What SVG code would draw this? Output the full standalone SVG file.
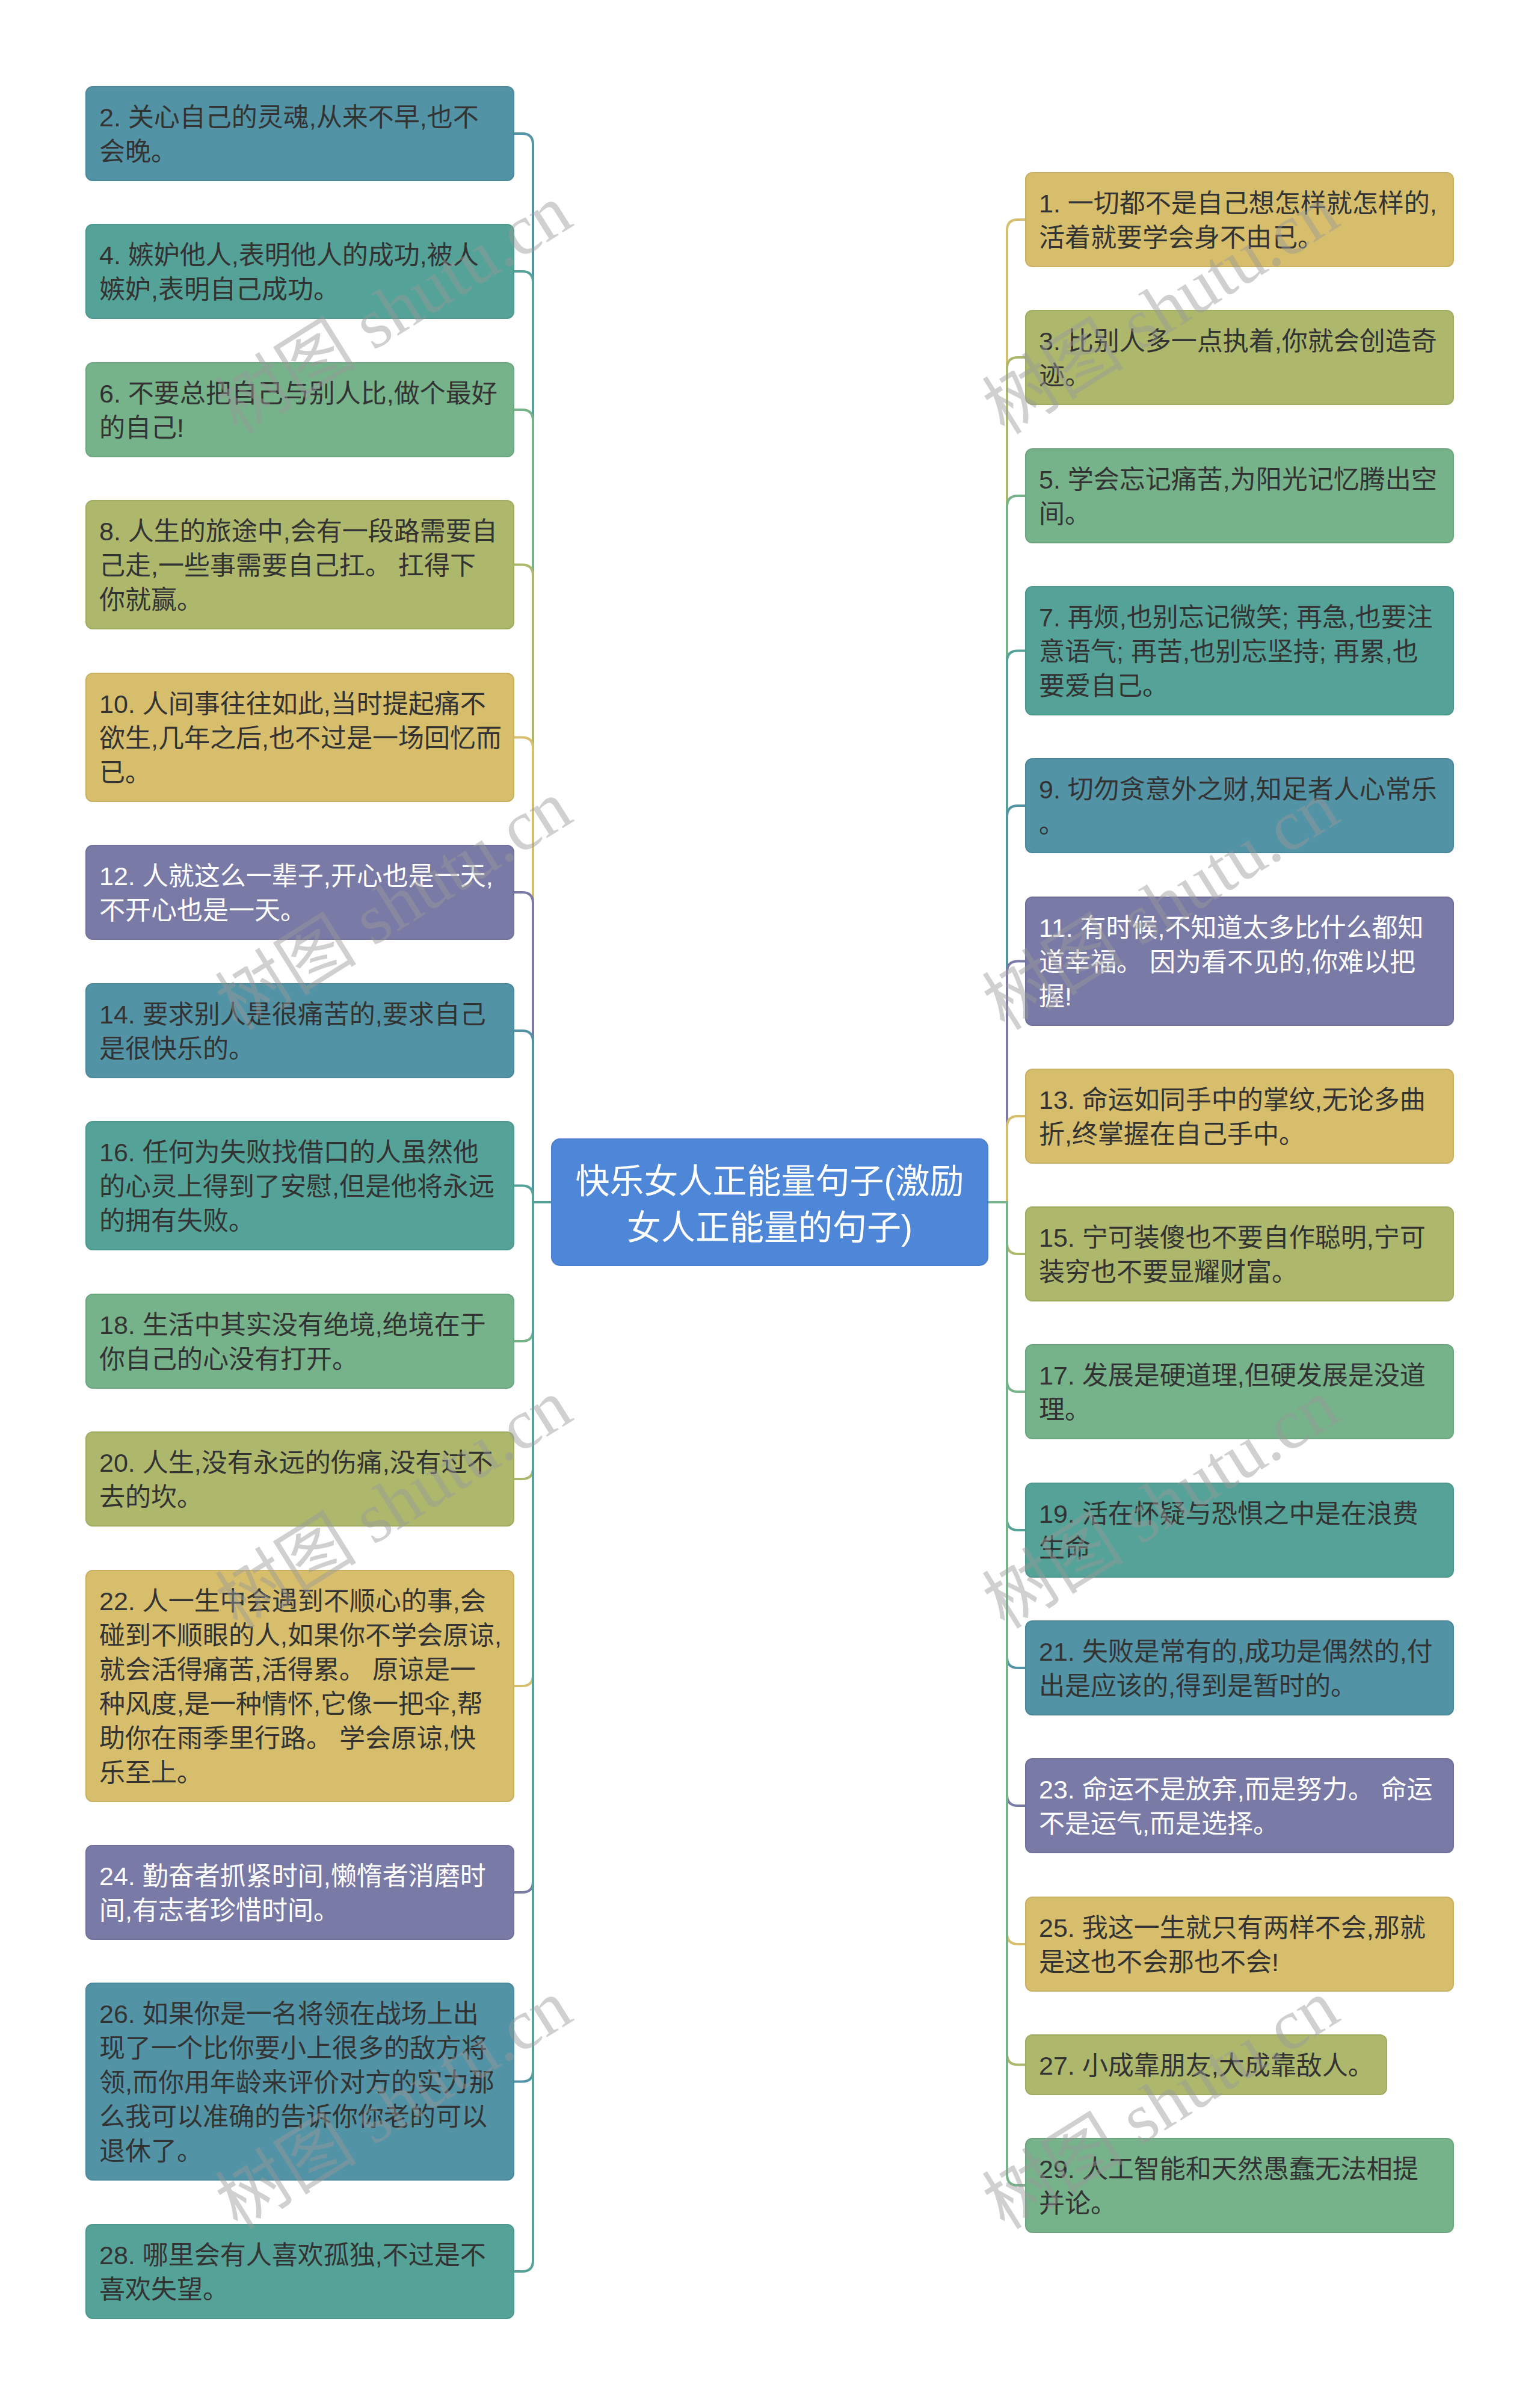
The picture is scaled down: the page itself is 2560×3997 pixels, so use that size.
<svg xmlns="http://www.w3.org/2000/svg" width="2560" height="3997" viewBox="0 0 2560 3997">
<style>
.bg{fill:#ffffff}
.n{stroke-width:2}
.c1{fill:#5293A6;stroke:#4B889A}
.c2{fill:#55A398;stroke:#4D988C}
.c3{fill:#76B28A;stroke:#6CA680}
.c4{fill:#ADB86D;stroke:#A1AC63}
.c5{fill:#D6BE6C;stroke:#C9B163}
.c6{fill:#7A7AA6;stroke:#70709A}
.s1{stroke:#5293A6}.s2{stroke:#55A398}.s3{stroke:#76B28A}.s4{stroke:#ADB86D}.s5{stroke:#D6BE6C}.s6{stroke:#7A7AA6}
.l{fill:none;stroke-width:4}
.t{font-family:"Liberation Sans","Noto Sans CJK SC",sans-serif;font-size:43px;fill:#333333}
.tw{fill:#ffffff}
.ct{font-family:"Liberation Sans","Noto Sans CJK SC",sans-serif;font-size:57px;fill:#ffffff;text-anchor:middle}
.wm{font-family:"Liberation Serif","Noto Sans CJK SC",serif;font-size:118px;fill:#999999;opacity:0.45;text-anchor:middle;dominant-baseline:central}
</style>
<rect class="bg" x="0" y="0" width="2560" height="3997"/>
<g id="connectors">
<path class="l s1" d="M917 1998H886V240Q886 222 868 222H854"/>
<path class="l s2" d="M917 1998H886V469Q886 451 868 451H854"/>
<path class="l s3" d="M917 1998H886V699Q886 681 868 681H854"/>
<path class="l s4" d="M917 1998H886V956.5Q886 938.5 868 938.5H854"/>
<path class="l s5" d="M917 1998H886V1243.5Q886 1225.5 868 1225.5H854"/>
<path class="l s6" d="M917 1998H886V1501Q886 1483 868 1483H854"/>
<path class="l s1" d="M917 1998H886V1731Q886 1713 868 1713H854"/>
<path class="l s2" d="M917 1998H886V1988.5Q886 1970.5 868 1970.5H854"/>
<path class="l s3" d="M917 1998H886V2211Q886 2229 868 2229H854"/>
<path class="l s4" d="M917 1998H886V2440Q886 2458 868 2458H854"/>
<path class="l s5" d="M917 1998H886V2784Q886 2802 868 2802H854"/>
<path class="l s6" d="M917 1998H886V3127Q886 3145 868 3145H854"/>
<path class="l s1" d="M917 1998H886V3441.5Q886 3459.5 868 3459.5H854"/>
<path class="l s2" d="M917 1998H886V3757Q886 3775 868 3775H854"/>
<path class="l s5" d="M1642 1998H1674V383Q1674 365 1692 365H1705"/>
<path class="l s4" d="M1642 1998H1674V612Q1674 594 1692 594H1705"/>
<path class="l s3" d="M1642 1998H1674V842Q1674 824 1692 824H1705"/>
<path class="l s2" d="M1642 1998H1674V1099.5Q1674 1081.5 1692 1081.5H1705"/>
<path class="l s1" d="M1642 1998H1674V1357Q1674 1339 1692 1339H1705"/>
<path class="l s6" d="M1642 1998H1674V1615.5Q1674 1597.5 1692 1597.5H1705"/>
<path class="l s5" d="M1642 1998H1674V1873Q1674 1855 1692 1855H1705"/>
<path class="l s4" d="M1642 1998H1674V2066Q1674 2084 1692 2084H1705"/>
<path class="l s3" d="M1642 1998H1674V2295Q1674 2313 1692 2313H1705"/>
<path class="l s2" d="M1642 1998H1674V2525Q1674 2543 1692 2543H1705"/>
<path class="l s1" d="M1642 1998H1674V2754Q1674 2772 1692 2772H1705"/>
<path class="l s6" d="M1642 1998H1674V2983Q1674 3001 1692 3001H1705"/>
<path class="l s5" d="M1642 1998H1674V3213Q1674 3231 1692 3231H1705"/>
<path class="l s4" d="M1642 1998H1674V3413.5Q1674 3431.5 1692 3431.5H1705"/>
<path class="l s3" d="M1642 1998H1674V3614Q1674 3632 1692 3632H1705"/>
</g>
<g id="root">
<rect x="917" y="1893" width="725" height="210" rx="14" fill="#4E86D8" stroke="#4A7FCE" stroke-width="2"/>
<text class="ct"><tspan x="1279.5" y="1983">快乐女人正能量句子(激励</tspan><tspan x="1279.5" y="2060">女人正能量的句子)</tspan></text>
</g>
<g id="n2"><rect class="n c1" x="143" y="144" width="711" height="156" rx="11"/><text class="t"><tspan x="165" y="210">2. 关心自己的灵魂,从来不早,也不</tspan><tspan x="165" y="267">会晚。</tspan></text></g>
<g id="n4"><rect class="n c2" x="143" y="373" width="711" height="156" rx="11"/><text class="t"><tspan x="165" y="439">4. 嫉妒他人,表明他人的成功,被人</tspan><tspan x="165" y="496">嫉妒,表明自己成功。</tspan></text></g>
<g id="n6"><rect class="n c3" x="143" y="603" width="711" height="156" rx="11"/><text class="t"><tspan x="165" y="669">6. 不要总把自己与别人比,做个最好</tspan><tspan x="165" y="726">的自己!</tspan></text></g>
<g id="n8"><rect class="n c4" x="143" y="832" width="711" height="213" rx="11"/><text class="t"><tspan x="165" y="898">8. 人生的旅途中,会有一段路需要自</tspan><tspan x="165" y="955">己走,一些事需要自己扛。 扛得下</tspan><tspan x="165" y="1012">你就赢。</tspan></text></g>
<g id="n10"><rect class="n c5" x="143" y="1119" width="711" height="213" rx="11"/><text class="t"><tspan x="165" y="1185">10. 人间事往往如此,当时提起痛不</tspan><tspan x="165" y="1242">欲生,几年之后,也不过是一场回忆而</tspan><tspan x="165" y="1299">已。</tspan></text></g>
<g id="n12"><rect class="n c6" x="143" y="1405" width="711" height="156" rx="11"/><text class="t tw"><tspan x="165" y="1471">12. 人就这么一辈子,开心也是一天,</tspan><tspan x="165" y="1528">不开心也是一天。</tspan></text></g>
<g id="n14"><rect class="n c1" x="143" y="1635" width="711" height="156" rx="11"/><text class="t"><tspan x="165" y="1701">14. 要求别人是很痛苦的,要求自己</tspan><tspan x="165" y="1758">是很快乐的。</tspan></text></g>
<g id="n16"><rect class="n c2" x="143" y="1864" width="711" height="213" rx="11"/><text class="t"><tspan x="165" y="1930">16. 任何为失败找借口的人虽然他</tspan><tspan x="165" y="1987">的心灵上得到了安慰,但是他将永远</tspan><tspan x="165" y="2044">的拥有失败。</tspan></text></g>
<g id="n18"><rect class="n c3" x="143" y="2151" width="711" height="156" rx="11"/><text class="t"><tspan x="165" y="2217">18. 生活中其实没有绝境,绝境在于</tspan><tspan x="165" y="2274">你自己的心没有打开。</tspan></text></g>
<g id="n20"><rect class="n c4" x="143" y="2380" width="711" height="156" rx="11"/><text class="t"><tspan x="165" y="2446">20. 人生,没有永远的伤痛,没有过不</tspan><tspan x="165" y="2503">去的坎。</tspan></text></g>
<g id="n22"><rect class="n c5" x="143" y="2610" width="711" height="384" rx="11"/><text class="t"><tspan x="165" y="2676">22. 人一生中会遇到不顺心的事,会</tspan><tspan x="165" y="2733">碰到不顺眼的人,如果你不学会原谅,</tspan><tspan x="165" y="2790">就会活得痛苦,活得累。 原谅是一</tspan><tspan x="165" y="2847">种风度,是一种情怀,它像一把伞,帮</tspan><tspan x="165" y="2904">助你在雨季里行路。 学会原谅,快</tspan><tspan x="165" y="2961">乐至上。</tspan></text></g>
<g id="n24"><rect class="n c6" x="143" y="3067" width="711" height="156" rx="11"/><text class="t tw"><tspan x="165" y="3133">24. 勤奋者抓紧时间,懒惰者消磨时</tspan><tspan x="165" y="3190">间,有志者珍惜时间。</tspan></text></g>
<g id="n26"><rect class="n c1" x="143" y="3296" width="711" height="327" rx="11"/><text class="t"><tspan x="165" y="3362">26. 如果你是一名将领在战场上出</tspan><tspan x="165" y="3419">现了一个比你要小上很多的敌方将</tspan><tspan x="165" y="3476">领,而你用年龄来评价对方的实力那</tspan><tspan x="165" y="3533">么我可以准确的告诉你你老的可以</tspan><tspan x="165" y="3590">退休了。</tspan></text></g>
<g id="n28"><rect class="n c2" x="143" y="3697" width="711" height="156" rx="11"/><text class="t"><tspan x="165" y="3763">28. 哪里会有人喜欢孤独,不过是不</tspan><tspan x="165" y="3820">喜欢失望。</tspan></text></g>
<g id="n1"><rect class="n c5" x="1705" y="287" width="711" height="156" rx="11"/><text class="t"><tspan x="1727" y="353">1. 一切都不是自己想怎样就怎样的,</tspan><tspan x="1727" y="410">活着就要学会身不由己。</tspan></text></g>
<g id="n3"><rect class="n c4" x="1705" y="516" width="711" height="156" rx="11"/><text class="t"><tspan x="1727" y="582">3. 比别人多一点执着,你就会创造奇</tspan><tspan x="1727" y="639">迹。</tspan></text></g>
<g id="n5"><rect class="n c3" x="1705" y="746" width="711" height="156" rx="11"/><text class="t"><tspan x="1727" y="812">5. 学会忘记痛苦,为阳光记忆腾出空</tspan><tspan x="1727" y="869">间。</tspan></text></g>
<g id="n7"><rect class="n c2" x="1705" y="975" width="711" height="213" rx="11"/><text class="t"><tspan x="1727" y="1041">7. 再烦,也别忘记微笑; 再急,也要注</tspan><tspan x="1727" y="1098">意语气; 再苦,也别忘坚持; 再累,也</tspan><tspan x="1727" y="1155">要爱自己。</tspan></text></g>
<g id="n9"><rect class="n c1" x="1705" y="1261" width="711" height="156" rx="11"/><text class="t"><tspan x="1727" y="1327">9. 切勿贪意外之财,知足者人心常乐</tspan><tspan x="1727" y="1384">。</tspan></text></g>
<g id="n11"><rect class="n c6" x="1705" y="1491" width="711" height="213" rx="11"/><text class="t tw"><tspan x="1727" y="1557">11. 有时候,不知道太多比什么都知</tspan><tspan x="1727" y="1614">道幸福。 因为看不见的,你难以把</tspan><tspan x="1727" y="1671">握!</tspan></text></g>
<g id="n13"><rect class="n c5" x="1705" y="1777" width="711" height="156" rx="11"/><text class="t"><tspan x="1727" y="1843">13. 命运如同手中的掌纹,无论多曲</tspan><tspan x="1727" y="1900">折,终掌握在自己手中。</tspan></text></g>
<g id="n15"><rect class="n c4" x="1705" y="2006" width="711" height="156" rx="11"/><text class="t"><tspan x="1727" y="2072">15. 宁可装傻也不要自作聪明,宁可</tspan><tspan x="1727" y="2129">装穷也不要显耀财富。</tspan></text></g>
<g id="n17"><rect class="n c3" x="1705" y="2235" width="711" height="156" rx="11"/><text class="t"><tspan x="1727" y="2301">17. 发展是硬道理,但硬发展是没道</tspan><tspan x="1727" y="2358">理。</tspan></text></g>
<g id="n19"><rect class="n c2" x="1705" y="2465" width="711" height="156" rx="11"/><text class="t"><tspan x="1727" y="2531">19. 活在怀疑与恐惧之中是在浪费</tspan><tspan x="1727" y="2588">生命</tspan></text></g>
<g id="n21"><rect class="n c1" x="1705" y="2694" width="711" height="156" rx="11"/><text class="t"><tspan x="1727" y="2760">21. 失败是常有的,成功是偶然的,付</tspan><tspan x="1727" y="2817">出是应该的,得到是暂时的。</tspan></text></g>
<g id="n23"><rect class="n c6" x="1705" y="2923" width="711" height="156" rx="11"/><text class="t tw"><tspan x="1727" y="2989">23. 命运不是放弃,而是努力。 命运</tspan><tspan x="1727" y="3046">不是运气,而是选择。</tspan></text></g>
<g id="n25"><rect class="n c5" x="1705" y="3153" width="711" height="156" rx="11"/><text class="t"><tspan x="1727" y="3219">25. 我这一生就只有两样不会,那就</tspan><tspan x="1727" y="3276">是这也不会那也不会!</tspan></text></g>
<g id="n27"><rect class="n c4" x="1705" y="3382" width="600" height="99" rx="11"/><text class="t"><tspan x="1727" y="3448">27. 小成靠朋友,大成靠敌人。</tspan></text></g>
<g id="n29"><rect class="n c3" x="1705" y="3554" width="711" height="156" rx="11"/><text class="t"><tspan x="1727" y="3620">29. 人工智能和天然愚蠢无法相提</tspan><tspan x="1727" y="3677">并论。</tspan></text></g>
<g id="watermarks">
<text class="wm" transform="translate(655 515) rotate(-32)">树图 shutu.cn</text>
<text class="wm" transform="translate(655 1505) rotate(-32)">树图 shutu.cn</text>
<text class="wm" transform="translate(655 2500) rotate(-32)">树图 shutu.cn</text>
<text class="wm" transform="translate(655 3498) rotate(-32)">树图 shutu.cn</text>
<text class="wm" transform="translate(1930 515) rotate(-32)">树图 shutu.cn</text>
<text class="wm" transform="translate(1930 1505) rotate(-32)">树图 shutu.cn</text>
<text class="wm" transform="translate(1930 2500) rotate(-32)">树图 shutu.cn</text>
<text class="wm" transform="translate(1930 3498) rotate(-32)">树图 shutu.cn</text>
</g>
</svg>
